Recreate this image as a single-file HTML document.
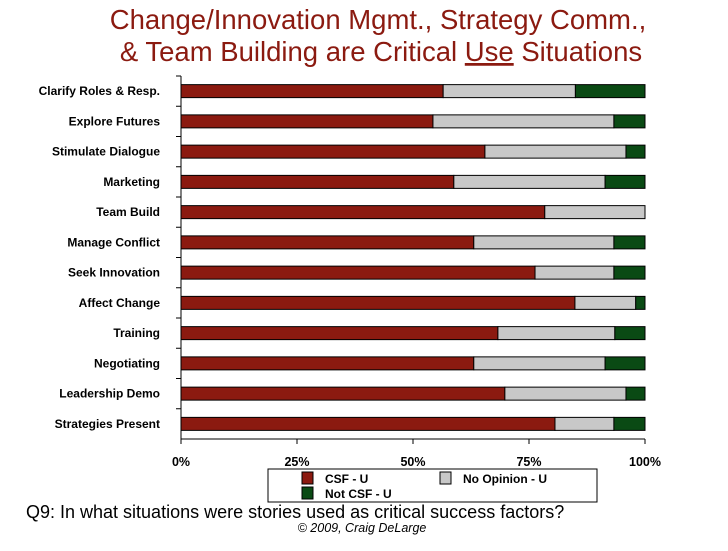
<!DOCTYPE html>
<html><head><meta charset="utf-8"><style>
body{margin:0;background:#fff;width:728px;height:546px;overflow:hidden;font-family:"Liberation Sans",Arial,sans-serif}
</style></head><body>
<svg id="c" width="728" height="546" xmlns="http://www.w3.org/2000/svg">
<text x="378" y="29" text-anchor="middle" font-size="27.5" fill="#8b1a10">Change/Innovation Mgmt., Strategy Comm.,</text>
<text x="381" y="61" text-anchor="middle" font-size="27.5" fill="#8b1a10">&amp; Team Building are Critical <tspan text-decoration="underline">Use</tspan> Situations</text>
<g id="plot"></g>
<rect x="268" y="469" width="329" height="33" fill="#fff" stroke="#000"/>
<rect x="302" y="472" width="11" height="12" fill="#8b1a10" stroke="#000"/>
<text x="325" y="483" font-size="12" font-weight="bold">CSF - U</text>
<rect x="440" y="472" width="11" height="12" fill="#c8c8c8" stroke="#000"/>
<text x="463" y="483" font-size="12" font-weight="bold">No Opinion - U</text>
<rect x="302" y="487" width="11" height="12" fill="#0a4a14" stroke="#000"/>
<text x="325" y="498" font-size="12" font-weight="bold">Not CSF - U</text>
<text x="26" y="518" font-size="18">Q9: In what situations were stories used as critical success factors?</text>
<text x="362" y="532" text-anchor="middle" font-size="12.5" font-style="italic">© 2009, Craig DeLarge</text>
</svg>
<script>
const categories=["Clarify Roles & Resp.","Explore Futures","Stimulate Dialogue","Marketing","Team Build","Manage Conflict","Seek Innovation","Affect Change","Training","Negotiating","Leadership Demo","Strategies Present"];
const csf=[56.5,54.3,65.5,58.8,78.4,63.1,76.3,84.9,68.3,63.1,69.8,80.6];
const noOpinion=[28.5,39.0,30.4,32.6,21.6,30.2,17.0,13.1,25.2,28.3,26.1,12.7];
const notCsf=[15.0,6.7,4.1,8.6,0,6.7,6.7,2.0,6.5,8.6,4.1,6.7];
const ticks=[0,25,50,75,100];
const tickLabels=["0%","25%","50%","75%","100%"];
const NS="http://www.w3.org/2000/svg";
const g=document.getElementById('plot');
const x0=181,x1=645,yTop=76,yBot=439;
const xs=v=>x0+(x1-x0)*v/100;
const band=(yBot-yTop)/categories.length;
const yc=i=>yTop+band*(i+0.5);
function mk(t,a){const e=document.createElementNS(NS,t);for(const k in a)e.setAttribute(k,a[k]);g.appendChild(e);return e;}
let ax=mk('line',{x1:x0,y1:yTop,x2:x0,y2:yBot,stroke:'#000'});


let bx=mk('line',{x1:x0,y1:yBot,x2:x1,y2:yBot,stroke:'#000'});


ticks.forEach((t,i)=>{
  let l=mk('line',{x1:xs(t),y1:yBot,x2:xs(t),y2:yBot+5,stroke:'#000'});
  
  
  let tx=mk('text',{x:xs(t),y:466,'text-anchor':'middle','font-size':12.5,'font-weight':'bold'});
  tx.textContent=tickLabels[i];
  
  
});
categories.forEach((c,i)=>{
  const y=yc(i);
  let tk=mk('line',{x1:x0-5,y1:yTop+band*i,x2:x0,y2:yTop+band*i,stroke:'#000'});
  
  
  let lb=mk('text',{x:160,y:y+4,'text-anchor':'end','font-size':12,'font-weight':'bold'});
  lb.textContent=c;
  
  
  const h=13;let acc=0;
  [[csf,'#8b1a10','bar-csf'],[noOpinion,'#c8c8c8','bar-no-opinion'],[notCsf,'#0a4a14','bar-not-csf']].forEach(([arr,col,nm])=>{
    const v=arr[i];
    if(v>0){
      let r=mk('rect',{x:xs(acc),y:y-h/2,width:xs(acc+v)-xs(acc),height:h,fill:col,stroke:'#000','stroke-width':1});
      
      
    }
    acc+=v;
  });
});
</script>
</body></html>
